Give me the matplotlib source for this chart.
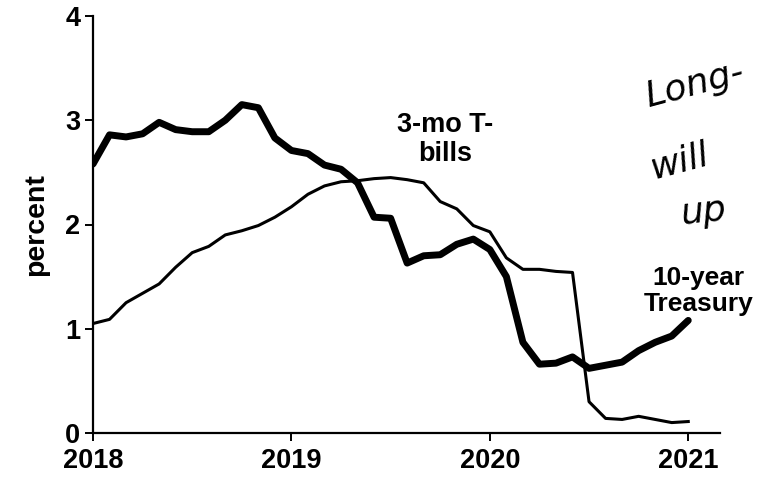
import matplotlib
matplotlib.use("Agg")
import matplotlib.pyplot as plt
import numpy as np

# monthly observations, Jan 2018 .. Jan 2021 (37 points)
months = 2018 + np.arange(37) / 12.0

ten_year = [2.58, 2.86, 2.84, 2.87, 2.98, 2.91, 2.89, 2.89, 3.00, 3.15, 3.12, 2.83,
            2.71, 2.68, 2.57, 2.53, 2.40, 2.07, 2.06, 1.63, 1.70, 1.71, 1.81, 1.86,
            1.76, 1.50, 0.87, 0.66, 0.67, 0.73, 0.62, 0.65, 0.68, 0.79, 0.87, 0.93,
            1.08]

tbill_3mo = [1.05, 1.09, 1.25, 1.34, 1.43, 1.59, 1.73, 1.79, 1.90, 1.94, 1.99, 2.07,
             2.17, 2.29, 2.37, 2.41, 2.42, 2.44, 2.45, 2.43, 2.40, 2.22, 2.15, 1.99,
             1.93, 1.68, 1.57, 1.57, 1.55, 1.54, 0.30, 0.14, 0.13, 0.16, 0.13, 0.10,
             0.11]

xticks = [2018, 2019, 2020, 2021]
yticks = [0, 1, 2, 3, 4]

plt.rcParams['font.family'] = ['Liberation Sans', 'DejaVu Sans']

fig = plt.figure(figsize=(7.57, 4.80), dpi=100)
ax = fig.add_axes([93/757, 47/480, (720-93)/757, (433-16)/480])

ax.plot(months, ten_year, color='black', lw=5.0, solid_joinstyle='round', solid_capstyle='round')
ax.plot(months, tbill_3mo, color='black', lw=2.2, solid_joinstyle='round')

ax.set_xlim(2018, 2021.16)
ax.set_ylim(0, 4)
ax.set_xticks(xticks)
ax.set_xticklabels([str(t) for t in xticks])
ax.set_yticks(yticks)
ax.set_yticklabels([str(t) for t in yticks])

for s in ['top', 'right']:
    ax.spines[s].set_visible(False)
for s in ['left', 'bottom']:
    ax.spines[s].set_linewidth(1.6)
    ax.spines[s].set_color('black')
ax.tick_params(axis='both', direction='out', length=6, width=1.4, labelsize=19.5)
for lab in ax.get_xticklabels() + ax.get_yticklabels():
    lab.set_fontweight('bold')
ax.tick_params(axis='x', pad=5)
ax.tick_params(axis='y', pad=3)

ax.set_ylabel('percent', fontsize=20.5, fontweight='bold', labelpad=12)

ax.text(2019.775, 2.82, '3-mo T-\nbills', ha='center', va='center', fontsize=19.5,
        fontweight='bold', linespacing=1.15)
ax.text(2021.05, 1.36, '10-year\nTreasury', ha='center', va='center', fontsize=19,
        fontweight='bold', linespacing=1.1, clip_on=False)

# handwritten note
hw = dict(fontsize=26, family='DejaVu Sans', fontstyle='oblique', fontweight='light',
          ha='center', va='center', clip_on=False)
ax.text(2021.03, 3.34, 'Long-', rotation=15, **hw)
ax.text(2020.96, 2.60, 'will', rotation=15, **hw)
ax.text(2021.08, 2.12, 'up', rotation=6, **hw)

fig.savefig('out.png', dpi=100, facecolor='white')
